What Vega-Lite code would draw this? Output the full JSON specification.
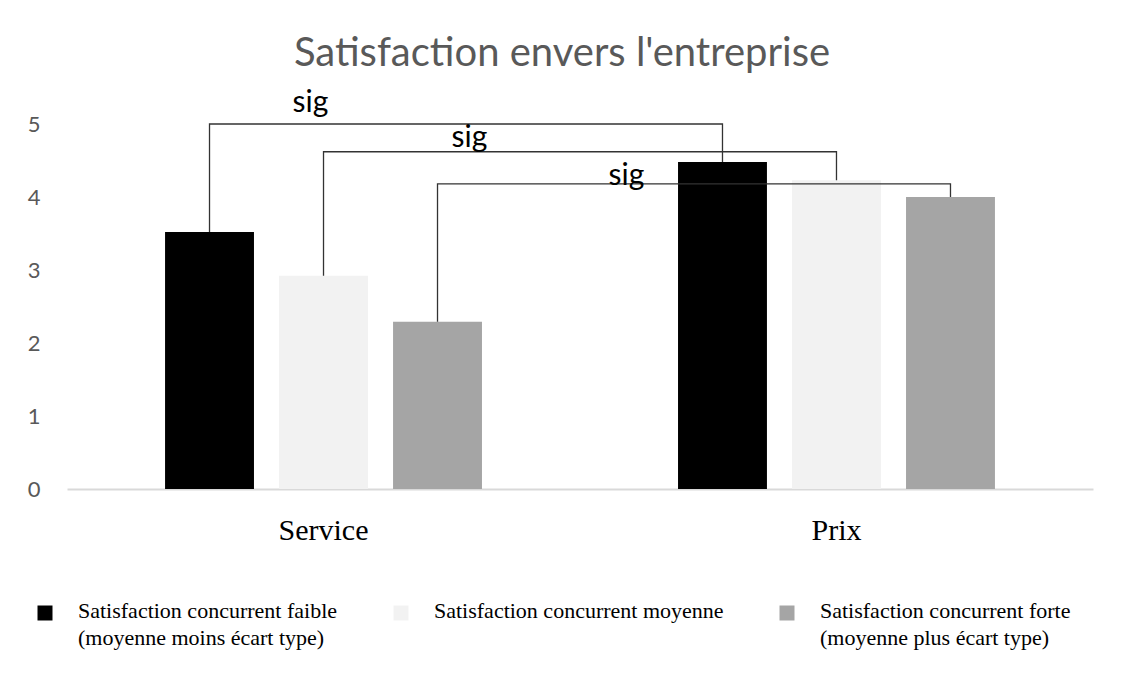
{
  "$schema": "https://vega.github.io/schema/vega-lite/v6.json",
  "width": 1026,
  "height": 365,
  "autosize": {"type": "none"},
  "padding": {"left": 67, "top": 124, "right": 31, "bottom": 188},
  "background": "white",
  "title": {
    "text": "Satisfaction envers l'entreprise",
    "font": "Lato",
    "fontSize": 40,
    "fontWeight": "normal",
    "color": "#595959",
    "anchor": "middle",
    "frame": "group",
    "dx": -18,
    "offset": 14
  },
  "config": {"view": {"stroke": null}},
  "datasets": {
    "barres": [
      {"critere": "Service", "serie": "Satisfaction concurrent faible (moyenne moins écart type)", "valeur": 3.52},
      {"critere": "Service", "serie": "Satisfaction concurrent moyenne", "valeur": 2.92},
      {"critere": "Service", "serie": "Satisfaction concurrent forte (moyenne plus écart type)", "valeur": 2.29},
      {"critere": "Prix", "serie": "Satisfaction concurrent faible (moyenne moins écart type)", "valeur": 4.48},
      {"critere": "Prix", "serie": "Satisfaction concurrent moyenne", "valeur": 4.23},
      {"critere": "Prix", "serie": "Satisfaction concurrent forte (moyenne plus écart type)", "valeur": 4.0}
    ],
    "crochets": [
      {"crochet": "A", "critere": "Service", "serie": "Satisfaction concurrent faible (moyenne moins écart type)", "valeur": 3.52, "ordre": 1},
      {"crochet": "A", "critere": "Service", "serie": "Satisfaction concurrent faible (moyenne moins écart type)", "valeur": 5.0, "ordre": 2},
      {"crochet": "A", "critere": "Prix", "serie": "Satisfaction concurrent faible (moyenne moins écart type)", "valeur": 5.0, "ordre": 3},
      {"crochet": "A", "critere": "Prix", "serie": "Satisfaction concurrent faible (moyenne moins écart type)", "valeur": 4.48, "ordre": 4},
      {"crochet": "B", "critere": "Service", "serie": "Satisfaction concurrent moyenne", "valeur": 2.92, "ordre": 1},
      {"crochet": "B", "critere": "Service", "serie": "Satisfaction concurrent moyenne", "valeur": 4.62, "ordre": 2},
      {"crochet": "B", "critere": "Prix", "serie": "Satisfaction concurrent moyenne", "valeur": 4.62, "ordre": 3},
      {"crochet": "B", "critere": "Prix", "serie": "Satisfaction concurrent moyenne", "valeur": 4.23, "ordre": 4},
      {"crochet": "C", "critere": "Service", "serie": "Satisfaction concurrent forte (moyenne plus écart type)", "valeur": 2.29, "ordre": 1},
      {"crochet": "C", "critere": "Service", "serie": "Satisfaction concurrent forte (moyenne plus écart type)", "valeur": 4.18, "ordre": 2},
      {"crochet": "C", "critere": "Prix", "serie": "Satisfaction concurrent forte (moyenne plus écart type)", "valeur": 4.18, "ordre": 3},
      {"crochet": "C", "critere": "Prix", "serie": "Satisfaction concurrent forte (moyenne plus écart type)", "valeur": 4.0, "ordre": 4}
    ]
  },
  "encoding": {
    "x": {
      "field": "critere",
      "type": "nominal",
      "sort": ["Service", "Prix"],
      "scale": {"paddingInner": 0.3333, "paddingOuter": 0.1667},
      "axis": {
        "title": null,
        "ticks": false,
        "domainColor": "#d9d9d9",
        "domainWidth": 2,
        "labelAngle": 0,
        "labelFont": "Liberation Serif",
        "labelFontSize": 30,
        "labelColor": "#000000",
        "labelPadding": 26
      }
    },
    "xOffset": {
      "field": "serie",
      "type": "nominal",
      "sort": [
        "Satisfaction concurrent faible (moyenne moins écart type)",
        "Satisfaction concurrent moyenne",
        "Satisfaction concurrent forte (moyenne plus écart type)"
      ],
      "scale": {"paddingInner": 0.22, "paddingOuter": 0.11}
    },
    "y": {
      "field": "valeur",
      "type": "quantitative",
      "scale": {"domain": [0, 5], "nice": false},
      "axis": {
        "title": null,
        "values": [0, 1, 2, 3, 4, 5],
        "ticks": false,
        "domain": false,
        "grid": false,
        "labelFont": "Lato",
        "labelFontSize": 22,
        "labelColor": "#595959",
        "labelPadding": 27
      }
    }
  },
  "layer": [
    {
      "data": {"name": "barres"},
      "mark": {"type": "bar"},
      "encoding": {
        "color": {
          "field": "serie",
          "type": "nominal",
          "sort": [
            "Satisfaction concurrent faible (moyenne moins écart type)",
            "Satisfaction concurrent moyenne",
            "Satisfaction concurrent forte (moyenne plus écart type)"
          ],
          "scale": {"range": ["#000000", "#f2f2f2", "#a5a5a5"]},
          "legend": {
            "title": null,
            "orient": "none",
            "legendX": -33,
            "legendY": 478,
            "direction": "horizontal",
            "columns": 3,
            "columnPadding": 52,
            "symbolType": "square",
            "symbolSize": 225,
            "symbolStrokeWidth": 0,
            "labelFont": "Liberation Serif",
            "labelFontSize": 22,
            "labelColor": "#000000",
            "labelLimit": 400,
            "labelOffset": 22,
            "labelBaseline": "alphabetic",
            "labelExpr": "indexof(datum.label, ' (') > 0 ? [slice(datum.label, 0, indexof(datum.label, ' (')), slice(datum.label, indexof(datum.label, ' (') + 1)] : [datum.label, '']",
            "encode": {"labels": {"update": {"lineHeight": {"value": 27}, "dy": {"value": 5}}}}
          }
        }
      }
    },
    {
      "data": {"name": "crochets"},
      "mark": {"type": "line", "color": "#333333", "strokeWidth": 1.3},
      "encoding": {
        "detail": {"field": "crochet", "type": "nominal"},
        "order": {"field": "ordre", "type": "quantitative"}
      }
    },
    {
      "data": {"values": [{"texte": "sig", "critere": "Service", "serie": "Satisfaction concurrent faible (moyenne moins écart type)", "valeur": 5.29}]},
      "mark": {"type": "text", "font": "Lato", "fontSize": 30, "color": "#000000", "dx": 101},
      "encoding": {"text": {"field": "texte"}}
    },
    {
      "data": {"values": [{"texte": "sig", "critere": "Service", "serie": "Satisfaction concurrent moyenne", "valeur": 4.81}]},
      "mark": {"type": "text", "font": "Lato", "fontSize": 30, "color": "#000000", "dx": 146},
      "encoding": {"text": {"field": "texte"}}
    },
    {
      "data": {"values": [{"texte": "sig", "critere": "Service", "serie": "Satisfaction concurrent forte (moyenne plus écart type)", "valeur": 4.29}]},
      "mark": {"type": "text", "font": "Lato", "fontSize": 30, "color": "#000000", "dx": 189},
      "encoding": {"text": {"field": "texte"}}
    }
  ]
}
